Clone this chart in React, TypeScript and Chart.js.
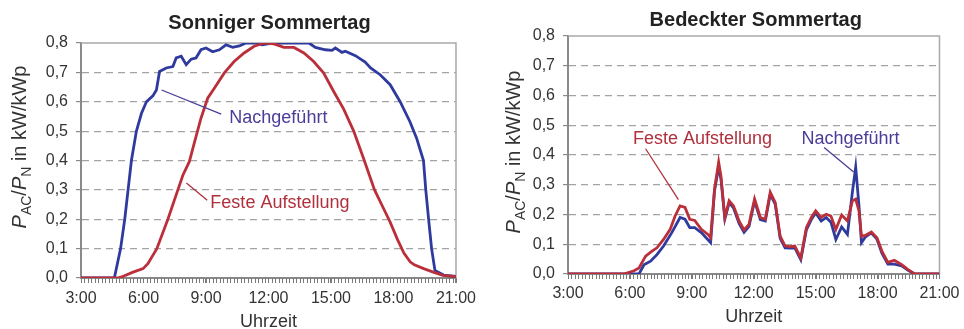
import React, { useEffect, useRef } from "react";
import { Chart, registerables } from "chart.js";

Chart.register(...registerables);

const FONT = '"Liberation Sans", Arial, Helvetica, sans-serif';

// ---- Data (time of day in hours, P_AC/P_N in kW/kWp) ----
// Sonniger Sommertag – Nachgeführt
const sunnyTrackedHours = [3.0, 4.6, 4.9, 5.1, 5.26, 5.42, 5.66, 5.9, 6.14, 6.45, 6.62, 6.77, 7.09, 7.41, 7.57, 7.81, 8.05, 8.29, 8.52, 8.76, 9.0, 9.32, 9.64, 9.96, 10.28, 10.6, 10.92, 11.39, 11.7, 12.03, 12.66, 12.98, 13.46, 13.94, 14.25, 14.73, 15.05, 15.21, 15.53, 15.69, 16.17, 16.64, 16.9, 17.36, 17.84, 18.32, 18.79, 19.11, 19.44, 19.55, 19.7, 19.83, 19.99, 20.4, 21.0];
const sunnyTrackedValues = [0, 0, 0.1, 0.2, 0.3, 0.4, 0.5, 0.56, 0.6, 0.62, 0.64, 0.703, 0.715, 0.72, 0.749, 0.755, 0.726, 0.745, 0.749, 0.777, 0.783, 0.77, 0.777, 0.794, 0.785, 0.79, 0.8, 0.8, 0.794, 0.798, 0.8, 0.8, 0.8, 0.8, 0.785, 0.777, 0.775, 0.783, 0.768, 0.772, 0.757, 0.735, 0.715, 0.692, 0.658, 0.6, 0.532, 0.476, 0.4, 0.3, 0.19, 0.1, 0.026, 0.01, 0.005];
// Sonniger Sommertag – Feste Aufstellung
const sunnyFixedHours = [3.0, 4.75, 5.0, 5.5, 5.98, 6.21, 6.64, 7.17, 7.65, 7.89, 8.2, 8.44, 8.76, 9.08, 9.4, 9.88, 10.35, 10.83, 11.31, 11.79, 12.26, 12.74, 13.22, 13.7, 14.17, 14.65, 15.13, 15.61, 16.09, 16.56, 17.09, 17.5, 17.84, 18.2, 18.5, 18.8, 19.0, 19.45, 19.91, 20.38, 21.0];
const sunnyFixedValues = [0, 0, 0.005, 0.02, 0.032, 0.049, 0.1, 0.2, 0.3, 0.35, 0.396, 0.46, 0.544, 0.612, 0.646, 0.698, 0.737, 0.766, 0.789, 0.8, 0.797, 0.785, 0.785, 0.766, 0.737, 0.698, 0.635, 0.575, 0.5, 0.408, 0.3, 0.24, 0.19, 0.13, 0.085, 0.055, 0.045, 0.032, 0.02, 0.009, 0.005];

// Bedeckter Sommertag – Feste Aufstellung
const cloudyFixedHours = [3.0, 5.7, 6.2, 6.44, 6.76, 7.07, 7.31, 7.63, 7.95, 8.19, 8.43, 8.67, 8.9, 9.14, 9.46, 9.78, 9.91, 10.1, 10.3, 10.41, 10.6, 10.81, 11.02, 11.29, 11.53, 11.77, 12.04, 12.32, 12.56, 12.8, 13.04, 13.28, 13.52, 13.75, 13.99, 14.28, 14.55, 14.79, 15.0, 15.27, 15.51, 15.74, 15.98, 16.26, 16.54, 16.78, 16.94, 17.1, 17.22, 17.42, 17.7, 17.97, 18.21, 18.5, 18.81, 19.17, 19.48, 19.8, 21.0];
const cloudyFixedValues = [0, 0, 0.011, 0.02, 0.06, 0.077, 0.088, 0.116, 0.15, 0.195, 0.229, 0.224, 0.184, 0.18, 0.15, 0.133, 0.122, 0.286, 0.376, 0.33, 0.19, 0.246, 0.229, 0.178, 0.148, 0.167, 0.252, 0.19, 0.184, 0.275, 0.241, 0.127, 0.094, 0.092, 0.094, 0.054, 0.156, 0.19, 0.212, 0.19, 0.201, 0.195, 0.15, 0.198, 0.178, 0.246, 0.252, 0.212, 0.127, 0.13, 0.141, 0.122, 0.077, 0.039, 0.046, 0.031, 0.015, 0.0, 0];
// Bedeckter Sommertag – Nachgeführt
const cloudyTrackedHours = [3.0, 6.44, 6.68, 7.0, 7.31, 7.63, 8.03, 8.43, 8.67, 8.9, 9.14, 9.46, 9.91, 10.1, 10.3, 10.41, 10.6, 10.81, 11.02, 11.29, 11.53, 11.77, 12.04, 12.32, 12.56, 12.8, 13.04, 13.28, 13.52, 13.75, 13.99, 14.28, 14.55, 14.79, 15.0, 15.27, 15.51, 15.74, 15.98, 16.26, 16.54, 16.78, 16.94, 17.1, 17.22, 17.42, 17.7, 17.97, 18.21, 18.5, 18.81, 19.17, 19.48, 19.8, 21.0];
const cloudyTrackedValues = [0, 0, 0.031, 0.043, 0.065, 0.094, 0.139, 0.19, 0.184, 0.156, 0.156, 0.139, 0.105, 0.28, 0.36, 0.32, 0.185, 0.24, 0.222, 0.17, 0.14, 0.16, 0.245, 0.183, 0.178, 0.268, 0.235, 0.12, 0.088, 0.087, 0.088, 0.048, 0.148, 0.183, 0.205, 0.178, 0.19, 0.174, 0.116, 0.158, 0.133, 0.275, 0.359, 0.229, 0.105, 0.125, 0.138, 0.117, 0.07, 0.033, 0.033, 0.027, 0.012, 0.0, 0];

const xLabelHours = [3, 6, 9, 12, 15, 18, 21];
const yTickValues = [0, 0.1, 0.2, 0.3, 0.4, 0.5, 0.6, 0.7, 0.8];
const minorTickStepMinutes = 10;

const BLUE = "#2f3a9e";
const RED = "#bb2f3a";
const NOTE_BLUE = "#4a3d98";
const NOTE_RED = "#b0303c";

type Note = { text: string; color: string; at: [number, number]; from: [number, number]; to: [number, number] };

type PanelCfg = {
  title: string;
  fixedHours: number[];
  fixedValues: number[];
  trackedHours: number[];
  trackedValues: number[];
  yAxisW: number;
  padRight: number;
  padTop: number;
  xAxisH: number;
  titleY: number;
  titleDX: number;
  xTitleY: number;
  yTitleX: number;
  yTitleY: number;
  xTickPad: number;
  notes: Note[];
};

const toPoints = (hours: number[], values: number[]) =>
  hours.map((h, i) => ({ x: h * 60, y: values[i] }));

function makeOverlay(cfg: PanelCfg) {
  return {
    id: "overlay",
    beforeDatasetsDraw(chart: any) {
      const { ctx, chartArea: a, scales } = chart;
      ctx.save();
      ctx.strokeStyle = "#a9a9a9";
      ctx.lineWidth = 1.5;
      ctx.beginPath();
      ctx.moveTo(a.left, a.top);
      ctx.lineTo(a.right, a.top);
      ctx.lineTo(a.right, a.bottom);
      ctx.stroke();
      // minor tick marks on the time axis, taken from the x scale
      const sx = scales.x;
      ctx.strokeStyle = "#7a7a7a";
      ctx.lineWidth = 1;
      ctx.beginPath();
      for (let m = sx.min; m <= sx.max + 0.001; m += minorTickStepMinutes) {
        const x = Math.round(sx.getPixelForValue(m)) + 0.5;
        ctx.moveTo(x, a.bottom);
        ctx.lineTo(x, a.bottom + 5);
      }
      ctx.stroke();
      ctx.restore();
    },
    afterDraw(chart: any) {
      const { ctx, chartArea: a, scales } = chart;
      const sx = scales.x;
      const sy = scales.y;
      const px = (h: number) => sx.getPixelForValue(h * 60);
      const py = (v: number) => sy.getPixelForValue(v);
      ctx.save();
      // Title
      ctx.fillStyle = "#222";
      ctx.font = `bold 20px ${FONT}`;
      ctx.textAlign = "center";
      ctx.textBaseline = "middle";
      ctx.fillText(cfg.title, (a.left + a.right) / 2 + cfg.titleDX, cfg.titleY);
      // X title
      ctx.fillStyle = "#333";
      ctx.font = `18px ${FONT}`;
      ctx.fillText("Uhrzeit", (a.left + a.right) / 2, cfg.xTitleY);
      // Y title with subscripts
      const parts = [
        { t: "P", f: `italic 20px ${FONT}`, dy: 0 },
        { t: "AC", f: `14px ${FONT}`, dy: 5 },
        { t: "/", f: `20px ${FONT}`, dy: 0 },
        { t: "P", f: `italic 20px ${FONT}`, dy: 0 },
        { t: "N", f: `14px ${FONT}`, dy: 5 },
        { t: " in kW/kWp", f: `20px ${FONT}`, dy: 0 },
      ];
      let total = 0;
      const widths = parts.map((p) => {
        ctx.font = p.f;
        const w = ctx.measureText(p.t).width;
        total += w;
        return w;
      });
      ctx.save();
      ctx.translate(cfg.yTitleX, cfg.yTitleY);
      ctx.rotate(-Math.PI / 2);
      ctx.textAlign = "left";
      ctx.textBaseline = "alphabetic";
      let cx = -total / 2;
      parts.forEach((p, i) => {
        ctx.font = p.f;
        ctx.fillText(p.t, cx, 7 + p.dy);
        cx += widths[i];
      });
      ctx.restore();
      // Annotations
      cfg.notes.forEach((n) => {
        ctx.strokeStyle = n.color;
        ctx.lineWidth = 1.3;
        ctx.beginPath();
        ctx.moveTo(px(n.from[0]), py(n.from[1]));
        ctx.lineTo(px(n.to[0]), py(n.to[1]));
        ctx.stroke();
        ctx.fillStyle = n.color;
        ctx.font = `18px ${FONT}`;
        ctx.textAlign = "left";
        ctx.textBaseline = "middle";
        ctx.fillText(n.text, px(n.at[0]), py(n.at[1]));
      });
      ctx.restore();
    },
  };
}

function Panel({ cfg, left }: { cfg: PanelCfg; left: number }) {
  const ref = useRef<HTMLCanvasElement | null>(null);
  useEffect(() => {
    if (!ref.current) return;
    const chart = new Chart(ref.current, {
      type: "line",
      data: {
        datasets: [
          {
            label: "Feste Aufstellung",
            data: toPoints(cfg.fixedHours, cfg.fixedValues),
            borderColor: RED,
            borderWidth: 2.8,
            pointRadius: 0,
            tension: 0,
            order: 1,
          },
          {
            label: "Nachgeführt",
            data: toPoints(cfg.trackedHours, cfg.trackedValues),
            borderColor: BLUE,
            borderWidth: 2.8,
            pointRadius: 0,
            tension: 0,
            order: 2,
          },
        ],
      },
      options: {
        animation: false,
        responsive: false,
        devicePixelRatio: 1,
        parsing: false as any,
        layout: {
          autoPadding: false,
          padding: { left: 0, right: cfg.padRight, top: cfg.padTop, bottom: 0 },
        },
        plugins: {
          legend: { display: false },
          title: { display: false },
          tooltip: { enabled: false },
        },
        scales: {
          x: {
            type: "linear",
            min: 180,
            max: 1260,
            afterFit: (s: any) => {
              s.height = cfg.xAxisH;
            },
            afterBuildTicks: (s: any) => {
              s.ticks = xLabelHours.map((h) => ({ value: h * 60 }));
            },
            border: { display: true, color: "#8a8a8a", width: 2 },
            grid: {
              drawOnChartArea: false,
              drawTicks: true,
              tickLength: 5,
              tickColor: "#7a7a7a",
              tickWidth: 1,
            },
            ticks: {
              autoSkip: false,
              maxRotation: 0,
              minRotation: 0,
              padding: cfg.xTickPad - 1,
              color: "#333",
              font: { family: FONT, size: 16 },
              callback: (v: any) => `${Math.round(Number(v) / 60)}:00`,
            },
          },
          y: {
            min: 0,
            max: 0.8,
            afterFit: (s: any) => {
              s.width = cfg.yAxisW;
            },
            afterBuildTicks: (s: any) => {
              s.ticks = yTickValues.map((v) => ({ value: v }));
            },
            border: { display: true, color: "#8a8a8a", width: 2, dash: [7, 5] },
            grid: {
              color: (c: any) =>
                c.tick && (c.tick.value < 0.001 || c.tick.value > 0.799) ? "rgba(0,0,0,0)" : "#a3a3a3",
              lineWidth: 1.2,
              drawTicks: true,
              tickLength: 5,
              tickColor: "#8a8a8a",
              tickWidth: 1.2,
            },
            ticks: {
              padding: 8,
              color: "#333",
              font: { family: FONT, size: 16 },
              callback: (v: any) => Number(v).toFixed(1).replace(".", ","),
            },
          },
        },
      },
      plugins: [makeOverlay(cfg)],
    } as any);
    return () => chart.destroy();
  }, [cfg]);
  return (
    <canvas
      ref={ref}
      width={482}
      height={329}
      style={{ position: "absolute", left, top: 0, width: 482, height: 329, display: "block" }}
    />
  );
}

const sunnyCfg: PanelCfg = {
  title: "Sonniger Sommertag",
  fixedHours: sunnyFixedHours,
  fixedValues: sunnyFixedValues,
  trackedHours: sunnyTrackedHours,
  trackedValues: sunnyTrackedValues,
  yAxisW: 81,
  padRight: 23,
  padTop: 43,
  xAxisH: 51,
  titleY: 23,
  titleDX: 1,
  xTitleY: 322,
  yTitleX: 19,
  yTitleY: 147,
  xTickPad: 7,
  notes: [
    { text: "Nachgeführt", color: NOTE_BLUE, at: [10.12, 0.545], from: [6.87, 0.64], to: [9.73, 0.558] },
    { text: "Feste Aufstellung", color: NOTE_RED, at: [9.21, 0.256], from: [8.06, 0.323], to: [9.06, 0.265] },
  ],
};

const cloudyCfg: PanelCfg = {
  title: "Bedeckter Sommertag",
  fixedHours: cloudyFixedHours,
  fixedValues: cloudyFixedValues,
  trackedHours: cloudyTrackedHours,
  trackedValues: cloudyTrackedValues,
  yAxisW: 86,
  padRight: 18,
  padTop: 36,
  xAxisH: 55,
  titleY: 20,
  titleDX: 2,
  xTitleY: 317,
  yTitleX: 31,
  yTitleY: 152,
  xTickPad: 5.5,
  notes: [
    { text: "Feste Aufstellung", color: NOTE_RED, at: [6.15, 0.455], from: [6.76, 0.421], to: [8.35, 0.25] },
    { text: "Nachgeführt", color: NOTE_BLUE, at: [14.31, 0.455], from: [15.41, 0.425], to: [16.84, 0.343] },
  ],
};

export default function App() {
  return (
    <div
      style={{
        position: "fixed",
        left: 0,
        top: 0,
        width: 964,
        height: 329,
        background: "#fff",
        overflow: "hidden",
      }}
    >
      <Panel cfg={sunnyCfg} left={0} />
      <Panel cfg={cloudyCfg} left={482} />
    </div>
  );
}
